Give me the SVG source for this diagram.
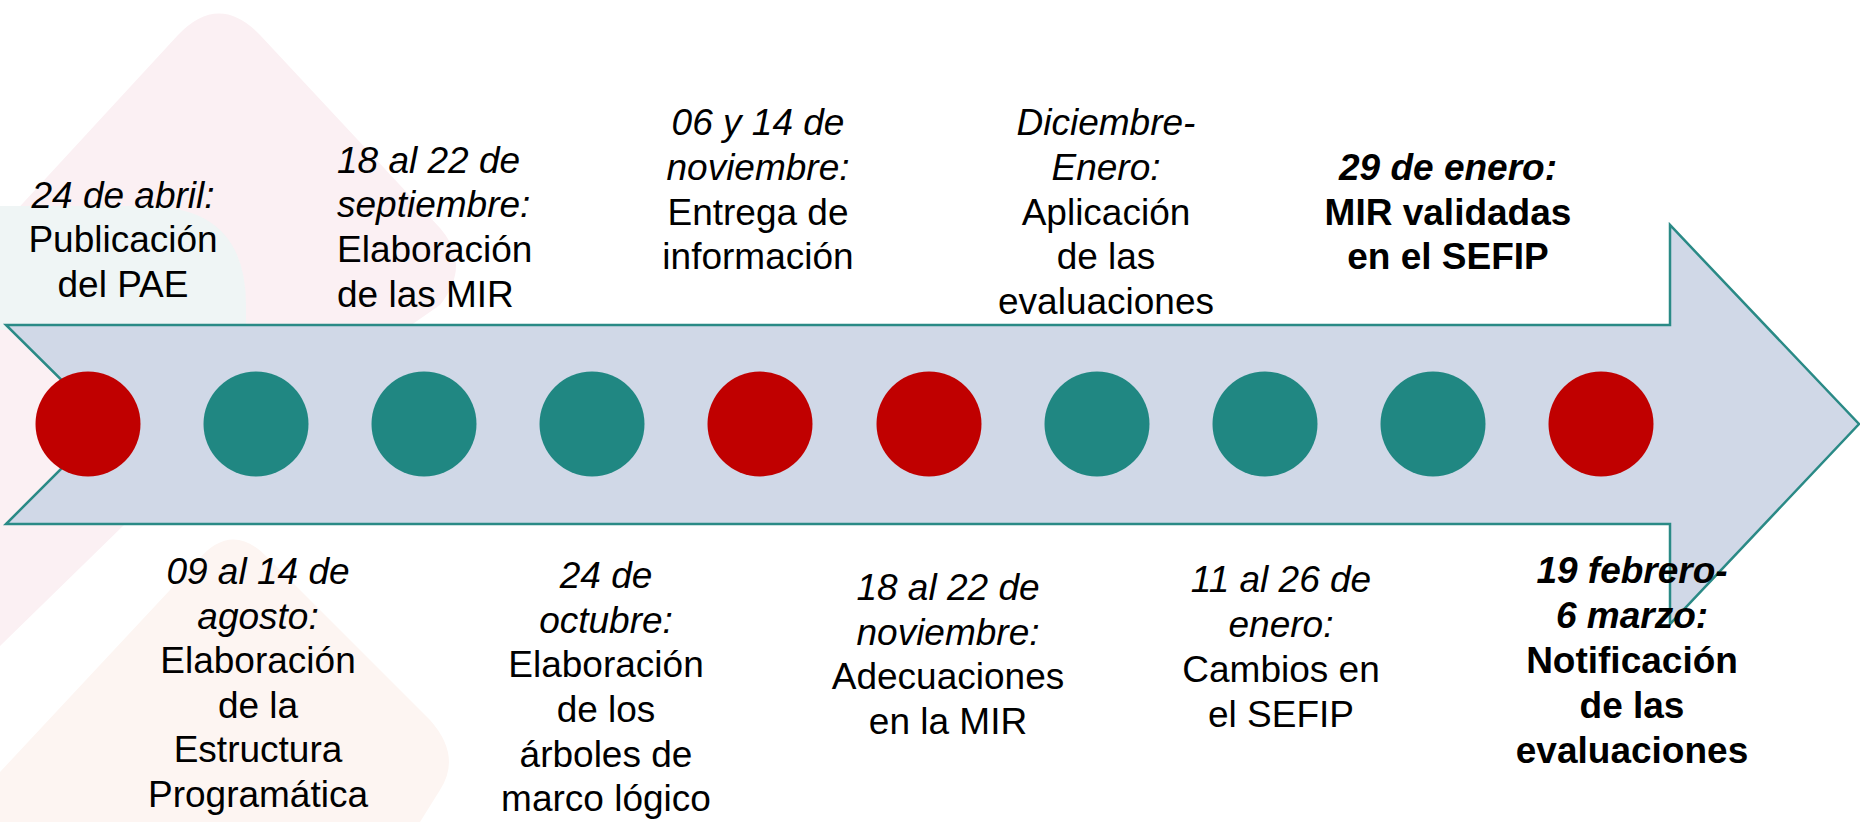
<svg xmlns="http://www.w3.org/2000/svg" width="1860" height="822" viewBox="0 0 1860 822">
  <style>
    .t { font-family: "Liberation Sans", Arial, sans-serif; font-size: 37px; fill: #000; text-anchor: middle; }
    .l { text-anchor: start; }
    .i { font-style: italic; }
    .b { font-weight: bold; }
    .red { fill: #C00000; }
    .teal { fill: #208782; }
  </style>
  <rect x="0" y="0" width="1860" height="822" fill="#FFFFFF"/>
  <g id="background">
    <path d="M 0 228 L 178 35 Q 219 -8 260 35 L 440 228 Q 472 265 440 305 L 125 524 L 0 646 Z" fill="#FBF0F3"/>
    <path d="M 0 206 L 145 206 Q 246 206 246 305 L 246 330 L 0 330 Z" fill="#EFF5F5"/>
    <path d="M 0 772 L 198 560 Q 232 520 268 558 L 430 720 Q 462 756 440 790 L 420 822 L 0 822 Z" fill="#FDF5F2"/>
  </g>
  <g id="connectors">
    <path id="timeline-arrow" d="M 6 325 L 1670 325 L 1670 225 L 1859 424 L 1670 624 L 1670 524 L 6 524 L 106 424 Z" fill="#D0D8E7" stroke="#2A8A86" stroke-width="2.5" stroke-linejoin="miter"/>
  </g>
  <g id="markers">
    <circle id="m1" class="red" cx="88" cy="424" r="52.5"/>
    <circle id="m2" class="teal" cx="256" cy="424" r="52.5"/>
    <circle id="m3" class="teal" cx="424" cy="424" r="52.5"/>
    <circle id="m4" class="teal" cx="592" cy="424" r="52.5"/>
    <circle id="m5" class="red" cx="760" cy="424" r="52.5"/>
    <circle id="m6" class="red" cx="929" cy="424" r="52.5"/>
    <circle id="m7" class="teal" cx="1097" cy="424" r="52.5"/>
    <circle id="m8" class="teal" cx="1265" cy="424" r="52.5"/>
    <circle id="m9" class="teal" cx="1433" cy="424" r="52.5"/>
    <circle id="m10" class="red" cx="1601" cy="424" r="52.5"/>
  </g>
  <g id="n1">
    <text class="t i" x="123" y="208">24 de abril:</text>
    <text class="t" x="123" y="252">Publicación</text>
    <text class="t" x="123" y="297">del PAE</text>
  </g>
  <g id="n2">
    <text class="t l i" x="337" y="173">18 al 22 de</text>
    <text class="t l i" x="337" y="217">septiembre:</text>
    <text class="t l" x="337" y="262">Elaboración</text>
    <text class="t l" x="337" y="307">de las MIR</text>
  </g>
  <g id="n3">
    <text class="t i" x="758" y="135">06 y 14 de</text>
    <text class="t i" x="758" y="180">noviembre:</text>
    <text class="t" x="758" y="225">Entrega de</text>
    <text class="t" x="758" y="269">información</text>
  </g>
  <g id="n4">
    <text class="t i" x="1106" y="135">Diciembre-</text>
    <text class="t i" x="1106" y="180">Enero:</text>
    <text class="t" x="1106" y="225">Aplicación</text>
    <text class="t" x="1106" y="269">de las</text>
    <text class="t" x="1106" y="314">evaluaciones</text>
  </g>
  <g id="n5">
    <text class="t i b" x="1448" y="180">29 de enero:</text>
    <text class="t b" x="1448" y="225">MIR validadas</text>
    <text class="t b" x="1448" y="269">en el SEFIP</text>
  </g>
  <g id="n6">
    <text class="t i" x="258" y="584">09 al 14 de</text>
    <text class="t i" x="258" y="629">agosto:</text>
    <text class="t" x="258" y="673">Elaboración</text>
    <text class="t" x="258" y="718">de la</text>
    <text class="t" x="258" y="762">Estructura</text>
    <text class="t" x="258" y="807">Programática</text>
  </g>
  <g id="n7">
    <text class="t i" x="606" y="588">24 de</text>
    <text class="t i" x="606" y="633">octubre:</text>
    <text class="t" x="606" y="677">Elaboración</text>
    <text class="t" x="606" y="722">de los</text>
    <text class="t" x="606" y="767">árboles de</text>
    <text class="t" x="606" y="811">marco lógico</text>
  </g>
  <g id="n8">
    <text class="t i" x="948" y="600">18 al 22 de</text>
    <text class="t i" x="948" y="645">noviembre:</text>
    <text class="t" x="948" y="689">Adecuaciones</text>
    <text class="t" x="948" y="734">en la MIR</text>
  </g>
  <g id="n9">
    <text class="t i" x="1281" y="592">11 al 26 de</text>
    <text class="t i" x="1281" y="637">enero:</text>
    <text class="t" x="1281" y="682">Cambios en</text>
    <text class="t" x="1281" y="727">el SEFIP</text>
  </g>
  <g id="n10">
    <text class="t i b" x="1632" y="583">19 febrero-</text>
    <text class="t i b" x="1632" y="628">6 marzo:</text>
    <text class="t b" x="1632" y="673">Notificación</text>
    <text class="t b" x="1632" y="718">de las</text>
    <text class="t b" x="1632" y="763">evaluaciones</text>
  </g>
</svg>
